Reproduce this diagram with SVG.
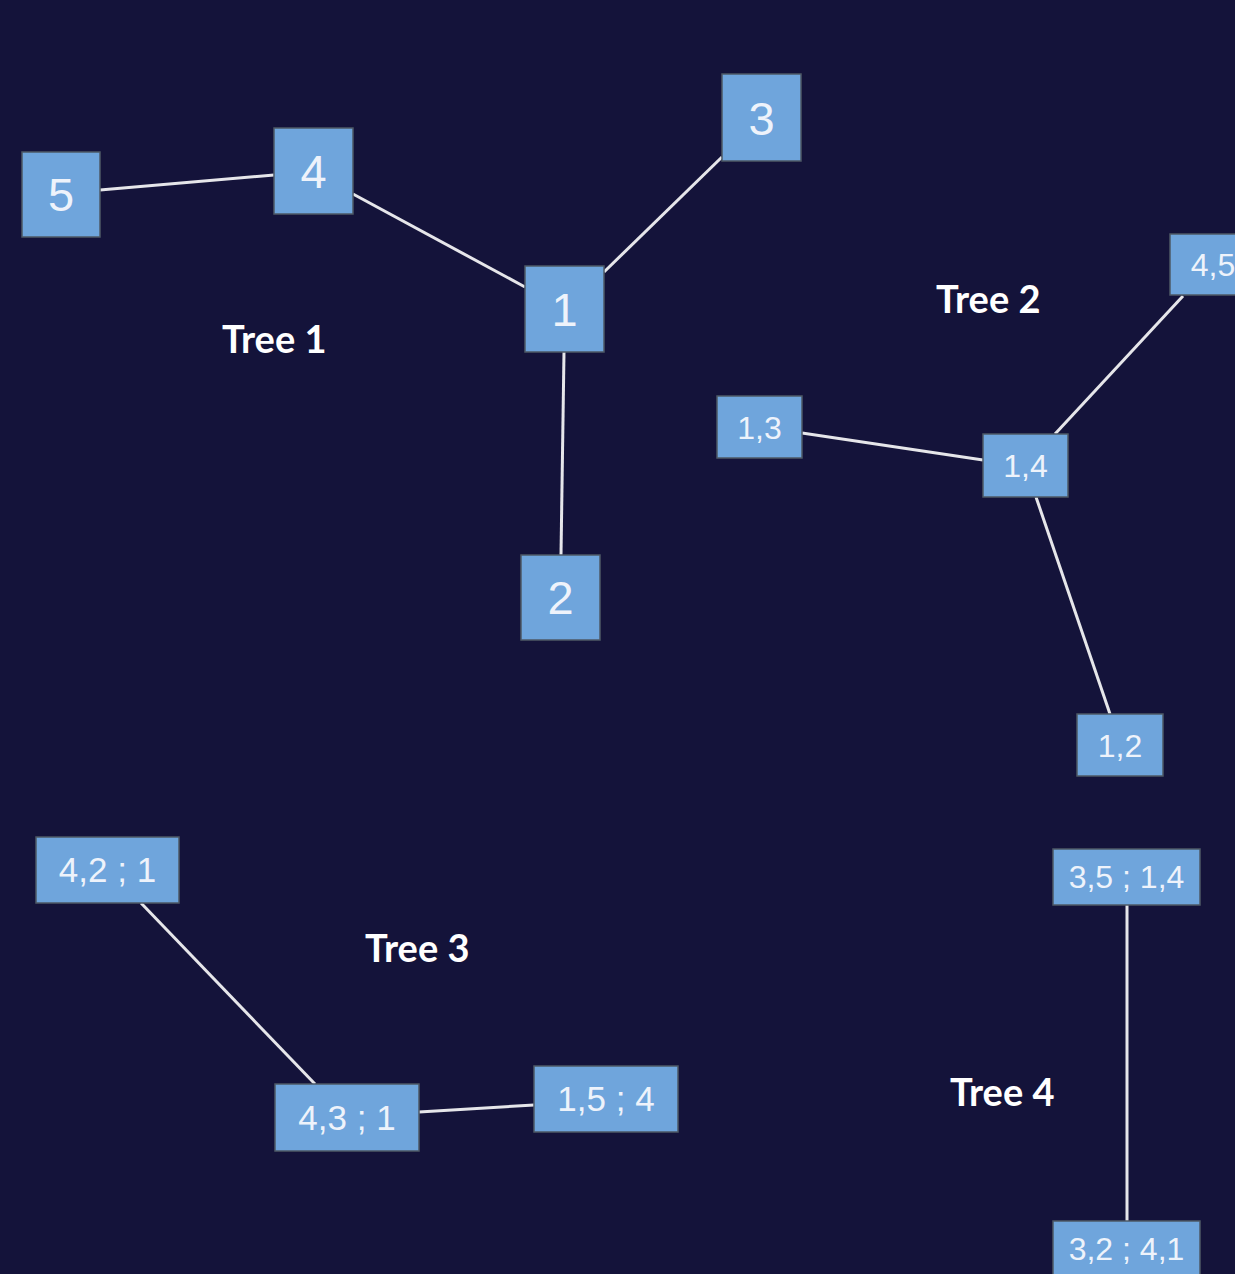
<svg xmlns="http://www.w3.org/2000/svg" width="1235" height="1274" viewBox="0 0 1235 1274">
<style>
.n rect{fill:#6fa5dc;stroke:#4d5966;stroke-width:1.5}
.n text{fill:#eef3fb;font-family:"Liberation Sans",Arial,sans-serif;text-anchor:middle}
.big text{font-size:47px}
.pr text{font-size:32px}
.tr text{font-size:35px}
.lbl{fill:#ffffff;font-family:Lato,"Liberation Sans",sans-serif;font-weight:bold;font-size:38px}
#edges line{stroke:#e6e6ea;stroke-width:3}
</style>
<rect width="1235" height="1274" fill="#14133a"/>
<g id="edges">
<line x1="100" y1="190" x2="274" y2="175"/>
<line x1="353" y1="194" x2="525" y2="287"/>
<line x1="604" y1="272" x2="722" y2="157"/>
<line x1="564" y1="352" x2="561" y2="555"/>
<line x1="802" y1="433" x2="983" y2="460"/>
<line x1="1055" y1="434" x2="1183" y2="296"/>
<line x1="1036" y1="497" x2="1110" y2="714"/>
<line x1="141" y1="903" x2="315" y2="1084"/>
<line x1="419" y1="1112" x2="534" y2="1105"/>
<line x1="1127" y1="905" x2="1127" y2="1221"/>
</g>
<g id="n5" class="n big"><rect x="22" y="152" width="78" height="85"/><text x="61" y="211">5</text></g>
<g id="n4" class="n big"><rect x="274" y="128" width="79" height="86"/><text x="313.5" y="188">4</text></g>
<g id="n3" class="n big"><rect x="722" y="74" width="79" height="87"/><text x="761.5" y="135">3</text></g>
<g id="n1" class="n big"><rect x="525" y="266" width="79" height="86"/><text x="564.5" y="326">1</text></g>
<g id="n2" class="n big"><rect x="521" y="555" width="79" height="85"/><text x="560.5" y="614">2</text></g>
<g id="n45" class="n pr"><rect x="1170" y="234" width="86" height="61"/><text x="1213" y="276">4,5</text></g>
<g id="n13" class="n pr"><rect x="717" y="396" width="85" height="62"/><text x="759.5" y="439">1,3</text></g>
<g id="n14" class="n pr"><rect x="983" y="434" width="85" height="63"/><text x="1025.5" y="477">1,4</text></g>
<g id="n12" class="n pr"><rect x="1077" y="714" width="86" height="62"/><text x="1120" y="757">1,2</text></g>
<g id="n3514" class="n pr"><rect x="1053" y="849" width="147" height="56"/><text x="1126.5" y="888">3,5 ; 1,4</text></g>
<g id="n3241" class="n pr"><rect x="1053" y="1221" width="147" height="60"/><text x="1126.5" y="1260">3,2 ; 4,1</text></g>
<g id="n421" class="n tr"><rect x="36" y="837" width="143" height="66"/><text x="107.5" y="882">4,2 ; 1</text></g>
<g id="n431" class="n tr"><rect x="275" y="1084" width="144" height="67"/><text x="347" y="1130">4,3 ; 1</text></g>
<g id="n154" class="n tr"><rect x="534" y="1066" width="144" height="66"/><text x="606" y="1111">1,5 ; 4</text></g>
<g id="labels">
<text class="lbl" x="222" y="353">Tree 1</text>
<text class="lbl" x="936" y="313">Tree 2</text>
<text class="lbl" x="365" y="962">Tree 3</text>
<text class="lbl" x="950" y="1106">Tree 4</text>
</g>
</svg>
